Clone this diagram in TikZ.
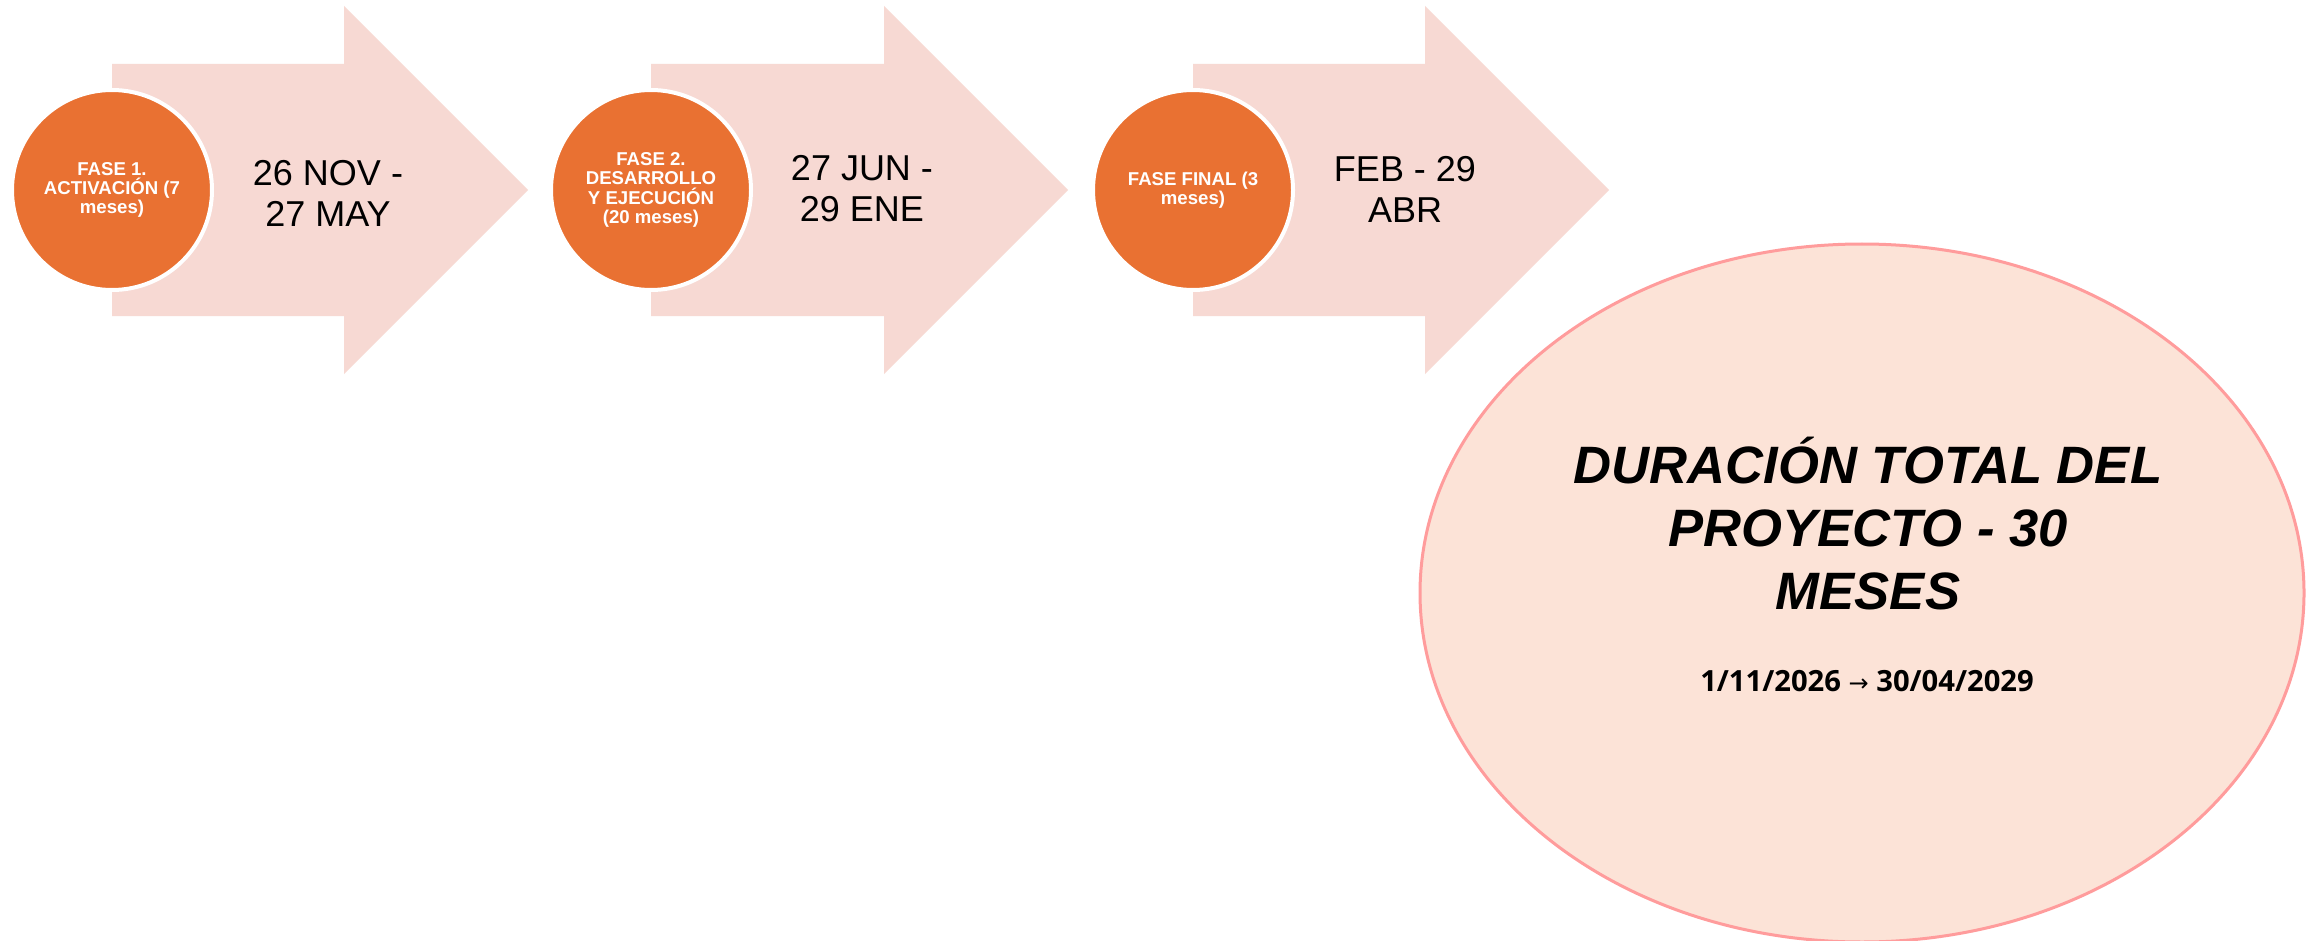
\documentclass[tikz,border=0pt]{standalone}
\usepackage{fontspec}
\setmainfont{Liberation Sans}
\newfontfamily\opensans{Open Sans}
\newfontfamily\dejavu{DejaVu Sans}
\usetikzlibrary{shapes.geometric}
\definecolor{phaseorange}{HTML}{E97132}
\definecolor{arrowfill}{HTML}{F7D9D3}
\definecolor{ellfill}{HTML}{FCE3D7}
\definecolor{elldraw}{HTML}{FF9C9C}
\begin{document}
\begin{tikzpicture}[x=0.5pt,y=-0.5pt,
  chevron/.style={fill=arrowfill,draw=none},
  phase/.style={circle,fill=phaseorange,draw=white,line width=2pt,minimum size=100pt,inner sep=0pt,
    text=white,align=center,font=\bfseries\fontsize{9.3}{9.7}\selectfont},
  datetext/.style={align=center,text=black,font=\fontsize{18}{20.5}\selectfont},
  totalbox/.style={ellipse,fill=ellfill,draw=elldraw,line width=1.5pt,minimum width=442pt,minimum height=349pt,inner sep=0pt},
  totaltitle/.style={align=center,font=\bfseries\itshape\fontsize{26.3}{31.5}\selectfont},
  totaldates/.style={font=\opensans\bfseries\fontsize{14.6}{16}\selectfont}
]
\useasboundingbox (0,0) rectangle (2306,941);
\fill[white] (0,0) rectangle (2306,941);

% chevrons
\fill[chevron] (112,64) -- (344,64) -- (344,6) -- (528,190) -- (344,374) -- (344,316) -- (112,316) -- cycle;
\fill[chevron] (651,64) -- (884,64) -- (884,6) -- (1068,190) -- (884,374) -- (884,316) -- (651,316) -- cycle;
\fill[chevron] (1193,64) -- (1425,64) -- (1425,6) -- (1609,190) -- (1425,374) -- (1425,316) -- (1193,316) -- cycle;

% phase circles
\node[phase] (p1) at (112,190) {FASE 1.\\ACTIVACIÓN (7\\meses)};
\node[phase] (p2) at (651,190) {FASE 2.\\DESARROLLO\\Y EJECUCIÓN\\(20 meses)};
\node[phase] (p3) at (1193,190) {FASE FINAL (3\\meses)};

% dates
\node[datetext] (d1) at (328,193) {26 NOV -\\27 MAY};
\node[datetext] (d2) at (862,189) {27 JUN -\\29 ENE};
\node[datetext] (d3) at (1405,189) {FEB - 29\\ABR};

% total
\node[totalbox] (total) at (1862,593) {};
\node[totaltitle] (title) at (1868,524) {DURACIÓN TOTAL DEL\\PROYECTO - 30\\MESES};
\node[totaldates,anchor=base] (range) at (1867,691) {1/11/2026 {\dejavu\mdseries\fontsize{12}{14}\selectfont →} 30/04/2029};
\end{tikzpicture}
\end{document}
